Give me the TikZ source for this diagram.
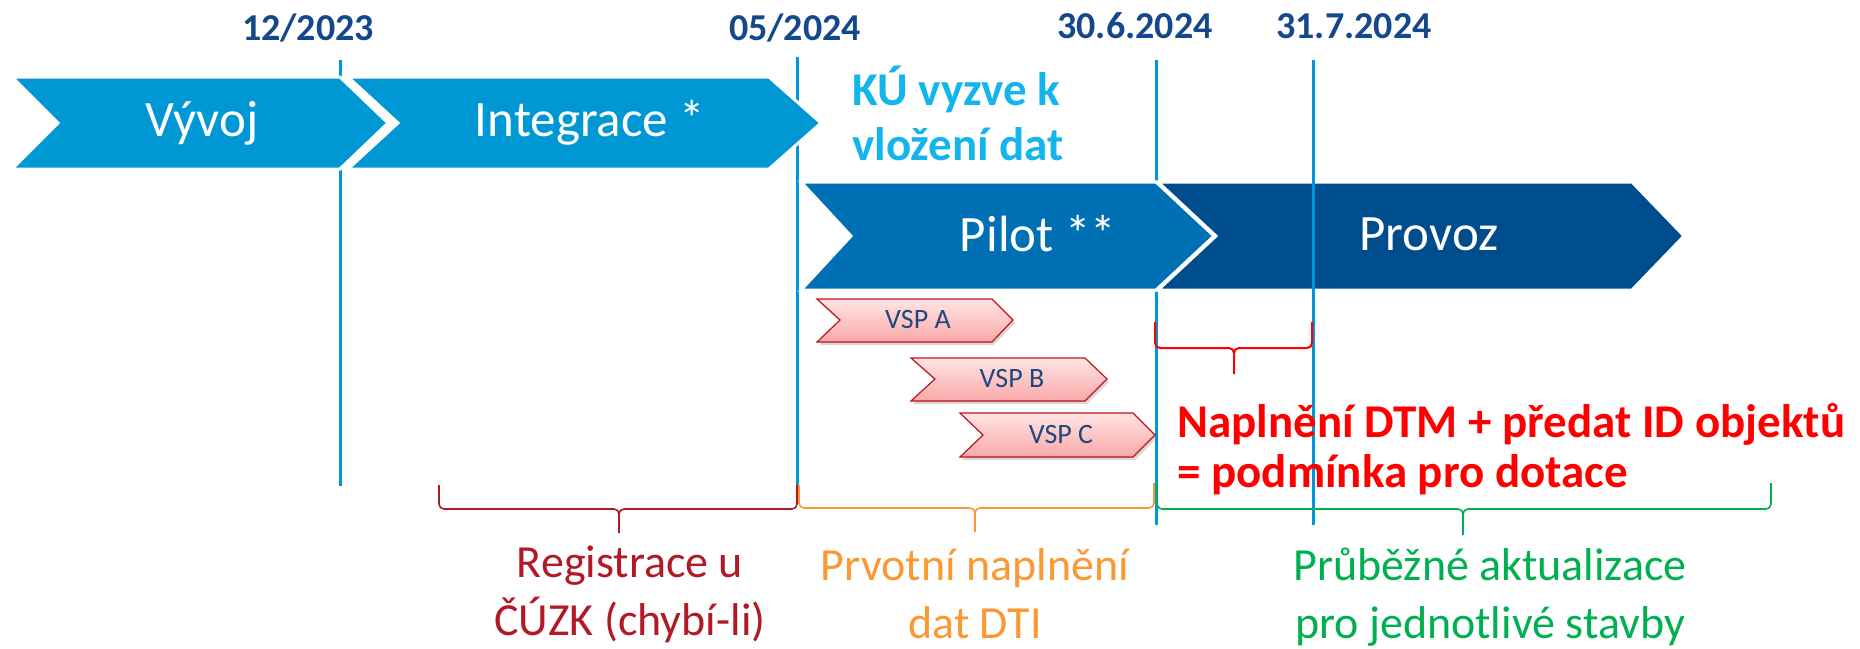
\documentclass[tikz,border=0pt]{standalone}
\usepackage{fontspec}
\setmainfont{Carlito}
\usetikzlibrary{shadows}

\definecolor{dateblue}{RGB}{20,72,138}
\definecolor{lineblue}{RGB}{0,150,220}
\definecolor{phaseblue}{RGB}{0,152,212}
\definecolor{pilotblue}{RGB}{0,112,180}
\definecolor{provozblue}{RGB}{0,77,141}
\definecolor{kublue}{RGB}{20,180,236}
\definecolor{vspred}{RGB}{192,20,30}
\definecolor{vsptop}{RGB}{255,228,228}
\definecolor{vspbot}{RGB}{250,168,168}
\definecolor{vsptext}{RGB}{31,73,125}
\definecolor{regred}{RGB}{178,24,38}
\definecolor{dtiorange}{RGB}{250,152,50}
\definecolor{aktgreen}{RGB}{0,176,80}

\begin{document}
\begin{tikzpicture}[x=1pt,y=-1pt,
	date/.style={text=dateblue, inner sep=0pt, font=\bfseries\fontsize{38}{46}\selectfont},
	dateline/.style={draw=lineblue, line width=3pt},
	phase/.style={draw=white, line width=3pt, line join=miter},
	phase text/.style={text=white, inner sep=0pt, font=\fontsize{51}{61}\selectfont},
	vsp/.style={draw=vspred, line width=1.2pt, top color=vsptop, bottom color=vspbot,
		drop shadow={shadow xshift=2pt, shadow yshift=-3pt, opacity=0.3}},
	vsp text/.style={text=vsptext, inner sep=0pt, font=\fontsize{28}{34}\selectfont},
	brace/.style={line width=1.6pt, rounded corners=5pt},
	note/.style={align=center, inner sep=0pt, font=\fontsize{46}{58}\selectfont}]
	\useasboundingbox (0,0) rectangle (1860,648);

	% milestones
	\node[date] (d1) at (308,28) {12/2023};
	\node[date] (d2) at (795,28) {05/2024};
	\node[date] (d3) at (1135,26) {30.6.2024};
	\node[date] (d4) at (1354,26) {31.7.2024};
	\draw[dateline] (340,60) -- (340,486);
	\draw[dateline] (797,57) -- (797,488);
	\draw[dateline] (1156,60) -- (1156,525);

	% phases
	\filldraw[phase, fill=phaseblue] (12,77) -- (340,77) -- (388,123) -- (340,169) -- (12,169) -- (58,123) -- cycle;
	\filldraw[phase, fill=phaseblue] (348,77) -- (769,77) -- (821,123) -- (769,169) -- (348,169) -- (398,123) -- cycle;
	\filldraw[phase, fill=pilotblue] (801,182) -- (1156,182) -- (1214,236) -- (1156,290) -- (801,290) -- (851,236) -- cycle;
	\filldraw[phase, fill=provozblue] (1158,182) -- (1632,182) -- (1684,236) -- (1632,290) -- (1158,290) -- (1216,236) -- cycle;
	\draw[dateline] (1313,60) -- (1313,525);

	\node[phase text] (vyvoj) at (202,123) {Vývoj};
	\node[phase text] (integrace) at (590,123) {Integrace *};
	\node[phase text] (pilot) at (1038,234) {Pilot **};
	\node[phase text] (provoz) at (1429,234) {Provoz};
	\node[anchor=west, align=left, inner sep=0pt, text=kublue, font=\bfseries\fontsize{47}{55}\selectfont] (vyzva) at (852,113) {KÚ vyzve k\\vložení dat};

	% pilot VSP
	\filldraw[vsp] (817,299) -- (992,299) -- (1013,320) -- (992,342) -- (817,342) -- (840,320) -- cycle;
	\filldraw[vsp] (911,358) -- (1085,358) -- (1107,379) -- (1085,401) -- (911,401) -- (935,379) -- cycle;
	\filldraw[vsp] (960,413) -- (1133,413) -- (1155,435) -- (1133,457) -- (960,457) -- (983,435) -- cycle;
	\node[vsp text] (vspa) at (918,320) {VSP A};
	\node[vsp text] (vspb) at (1012,379) {VSP B};
	\node[vsp text] (vspc) at (1061,435) {VSP C};

	% braces
	\draw[brace, red, line width=2pt] (1155,322) -- (1155,348) -- (1234,348) -- (1234,374)
		(1312,322) -- (1312,348) -- (1234,348) -- (1234,374);
	\draw[brace, regred] (439,485) -- (439,509) -- (619,509) -- (619,533)
		(797,485) -- (797,509) -- (619,509) -- (619,533);
	\draw[brace, dtiorange] (799,485) -- (799,508) -- (975,508) -- (975,532)
		(1154,483) -- (1154,508) -- (975,508) -- (975,532);
	\draw[brace, aktgreen] (1157,483) -- (1157,509) -- (1463,509) -- (1463,535)
		(1771,483) -- (1771,509) -- (1463,509) -- (1463,535);

	\node[anchor=west, align=left, inner sep=0pt, text=red, font=\bfseries\fontsize{47}{50}\selectfont] (dotace) at (1177,449) {Naplnění DTM + předat ID objektů\\= podmínka pro dotace};
	\node[note, text=regred] (registrace) at (630,594) {Registrace u\\ČÚZK (chybí-li)};
	\node[note, text=dtiorange] (naplneni) at (975,594) {Prvotní naplnění\\dat DTI};
	\node[note, text=aktgreen] (aktualizace) at (1490,597) {Průběžné aktualizace\\pro jednotlivé stavby};
\end{tikzpicture}
\end{document}
